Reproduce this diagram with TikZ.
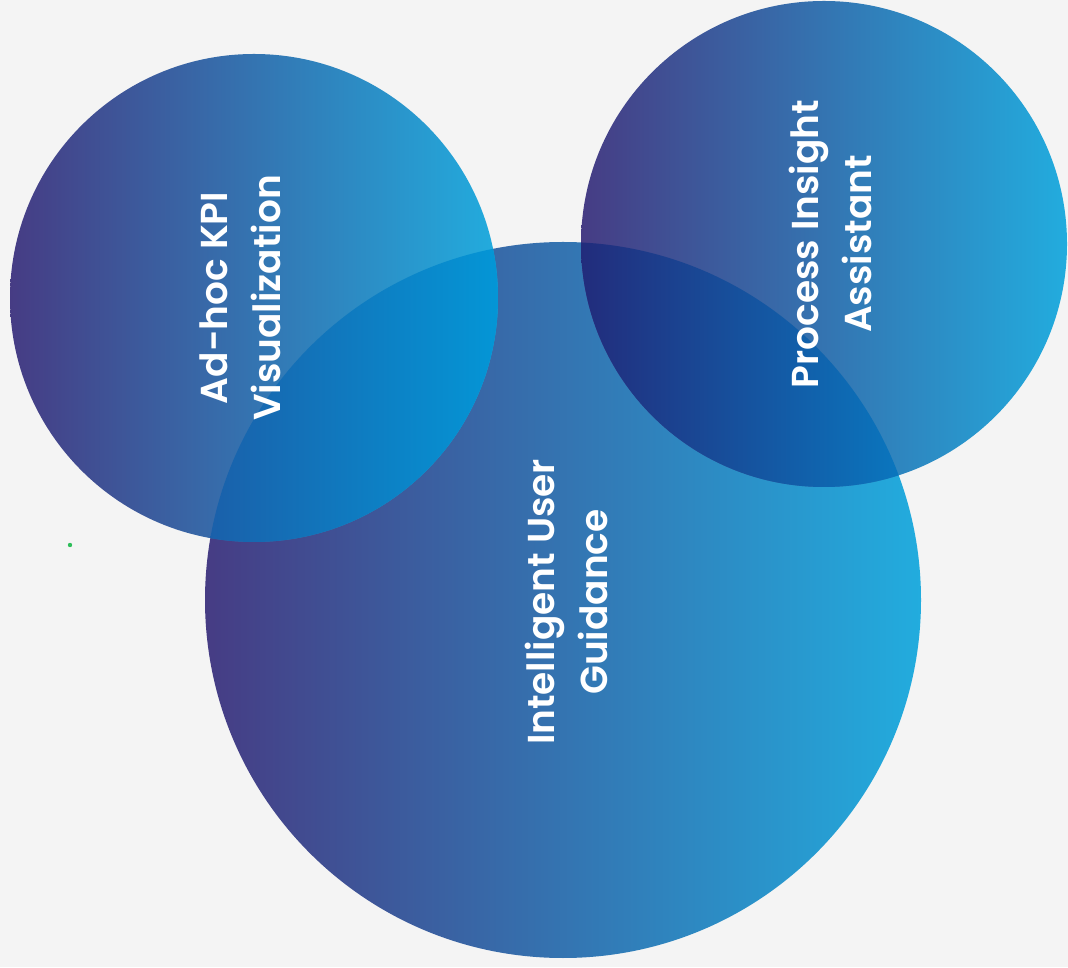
\documentclass[tikz,border=0pt]{standalone}
\usepackage{xcolor}
\usepackage{tikz}
\usepackage{fontspec}
\newfontfamily\bubblefont{Poppins SemiBold}
\definecolor{bgray}{RGB}{244,244,244}
\definecolor{dpurple}{RGB}{70,60,132}
\definecolor{lcyan}{RGB}{34,172,222}
\definecolor{lapleft}{RGB}{26,96,170}
\definecolor{lapright}{RGB}{4,150,214}
\definecolor{navy}{RGB}{34,44,124}
\definecolor{lapblue}{RGB}{10,118,190}
\definecolor{dotgreen}{RGB}{46,190,90}
\usetikzlibrary{calc}

\begin{document}
\begin{tikzpicture}[x=1pt,y=1pt,
    bubble/.style={rotate=90, text=white, align=center,
        font=\bubblefont\fontsize{37.5}{53}\selectfont}]
    % background
    \fill[bgray] (0,0) rectangle (1068,967);
    \useasboundingbox (0,0) rectangle (1068,967);
    % circle centres
    \coordinate (guide) at (563,367);
    \coordinate (kpi) at (254,669);
    \coordinate (insight) at (824,723);
    % the three bubbles
    \foreach \c/\r in {guide/358, kpi/244, insight/243} {
        \shade[left color=dpurple, right color=lcyan] (\c) circle (\r);
    }
    % overlaps
    \begin{scope}
        \clip (guide) circle (358);
        \clip (kpi) circle (244);
        \shade[left color=lapleft, right color=lapright] (210,0) rectangle (498,967);
    \end{scope}
    \begin{scope}
        \clip (guide) circle (358);
        \clip (insight) circle (243);
        \shade[left color=navy, right color=lapblue] (581,0) rectangle (899,967);
    \end{scope}
    % labels
    \node[bubble] (kpilabel) at (240,669) {Ad-hoc KPI\\Visualization};
    \node[bubble] (insightlabel) at (830,723) {Process Insight\\Assistant};
    \node[bubble] (guidelabel) at (566,365) {Intelligent User\\Guidance};
    \fill[dotgreen] (70,422) circle (2.2);
\end{tikzpicture}
\end{document}
